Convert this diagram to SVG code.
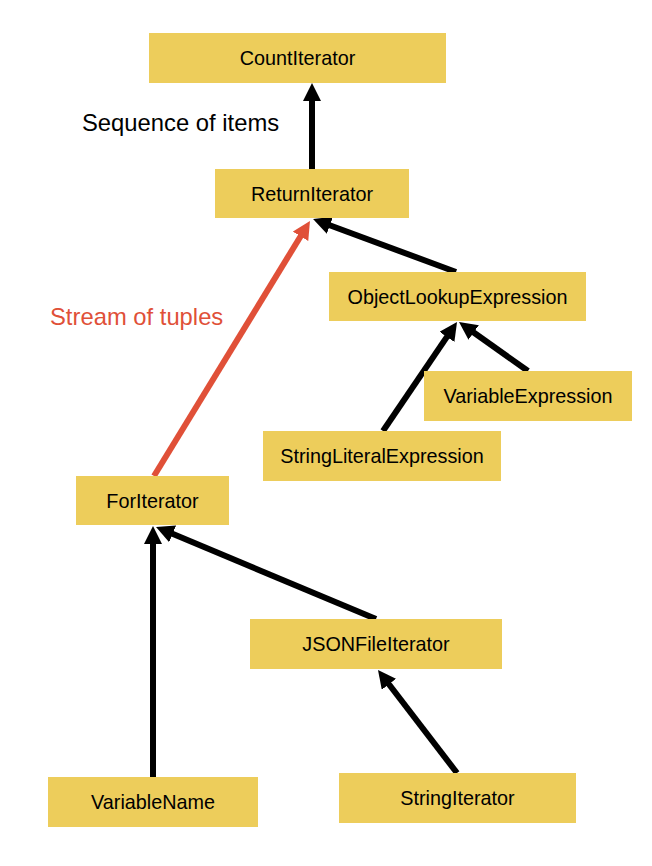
<svg xmlns="http://www.w3.org/2000/svg" width="652" height="866" viewBox="0 0 652 866">
<style>
.box{fill:#EDCD5B}
.lbl{font-family:"Liberation Sans",Arial,sans-serif;font-size:19.8px;fill:#000;text-anchor:middle}
.note{font-family:"Liberation Sans",Arial,sans-serif;font-size:23.8px}
.edge{stroke:#000;stroke-width:6;fill:none}
.red{stroke:#E05038}
</style>
<defs>
<marker id="ah" viewBox="0 0 18 18" markerWidth="18" markerHeight="18" refX="6" refY="9" orient="auto" markerUnits="userSpaceOnUse"><path d="M0,0 L18,9 L0,18 z" fill="#000"/></marker>
<marker id="ahr" viewBox="0 0 18 18" markerWidth="18" markerHeight="18" refX="6" refY="9" orient="auto" markerUnits="userSpaceOnUse"><path d="M0,0 L18,9 L0,18 z" fill="#E05038"/></marker>
</defs>
<rect width="652" height="866" fill="#fff"/>
<g id="connectors">
<line class="edge" x1="312" y1="169" x2="312" y2="95" marker-end="url(#ah)"/>
<line class="edge" x1="456" y1="272" x2="324.3" y2="223.2" marker-end="url(#ah)"/>
<line class="edge red" x1="154" y1="476" x2="303.7" y2="231.2" marker-end="url(#ahr)"/>
<line class="edge" x1="383" y1="431" x2="450.3" y2="331.9" marker-end="url(#ah)"/>
<line class="edge" x1="528" y1="371" x2="468.8" y2="329" marker-end="url(#ah)"/>
<line class="edge" x1="153" y1="777" x2="153" y2="538" marker-end="url(#ah)"/>
<line class="edge" x1="376" y1="619" x2="167.1" y2="531.6" marker-end="url(#ah)"/>
<line class="edge" x1="457" y1="773" x2="385.3" y2="679.5" marker-end="url(#ah)"/>
</g>
<text class="note" x="82" y="131" fill="#000">Sequence of items</text>
<text class="note" x="50" y="325" fill="#E05038">Stream of tuples</text>
<g id="CountIterator"><rect class="box" x="149" y="33" width="297" height="50"/><text class="lbl" x="297.5" y="65">CountIterator</text></g>
<g id="ReturnIterator"><rect class="box" x="215" y="169" width="194" height="49"/><text class="lbl" x="312" y="200.5">ReturnIterator</text></g>
<g id="ObjectLookupExpression"><rect class="box" x="329" y="272" width="257" height="49"/><text class="lbl" x="457.5" y="303.5">ObjectLookupExpression</text></g>
<g id="VariableExpression"><rect class="box" x="424" y="371" width="208" height="50"/><text class="lbl" x="528" y="403">VariableExpression</text></g>
<g id="StringLiteralExpression"><rect class="box" x="263" y="431" width="238" height="50"/><text class="lbl" x="382" y="463">StringLiteralExpression</text></g>
<g id="ForIterator"><rect class="box" x="76" y="476" width="153" height="49"/><text class="lbl" x="152.5" y="507.5">ForIterator</text></g>
<g id="JSONFileIterator"><rect class="box" x="250" y="619" width="252" height="50"/><text class="lbl" x="376" y="651">JSONFileIterator</text></g>
<g id="VariableName"><rect class="box" x="48" y="777" width="210" height="50"/><text class="lbl" x="153" y="809">VariableName</text></g>
<g id="StringIterator"><rect class="box" x="339" y="773" width="237" height="50"/><text class="lbl" x="457.5" y="805">StringIterator</text></g>
</svg>
